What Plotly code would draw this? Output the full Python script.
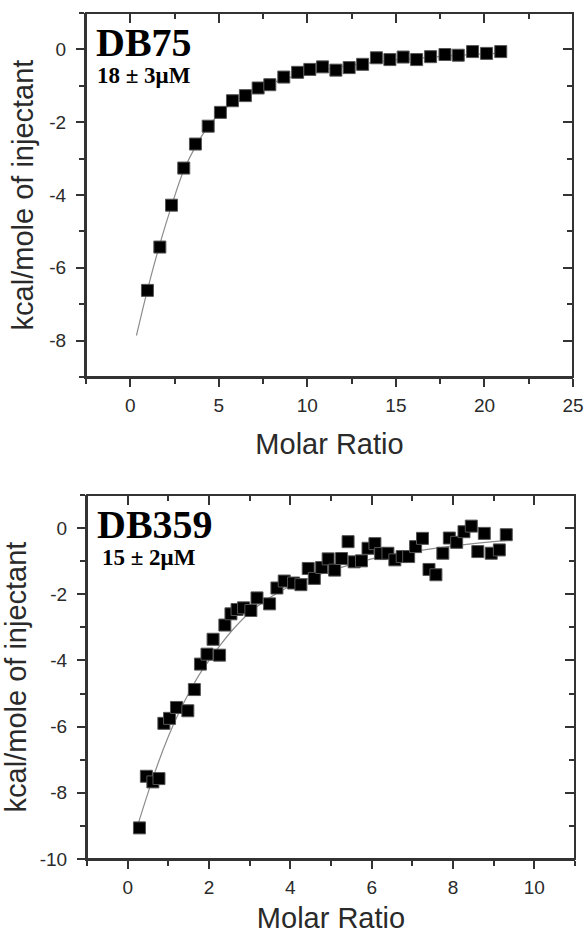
import plotly.graph_objects as go

# ---------------- data ----------------
# DB75 (top panel)
db75_ratio = [0.97, 1.67, 2.33, 3.02, 3.68, 4.40, 5.09, 5.77, 6.50, 7.22, 7.88, 8.67, 9.45, 10.14,
              10.86, 11.61, 12.36, 13.12, 13.90, 14.66, 15.41, 16.17, 16.96, 17.77, 18.52, 19.33,
              20.12, 20.92]
db75_heat = [-6.62, -5.43, -4.28, -3.26, -2.60, -2.11, -1.73, -1.41, -1.27, -1.06, -0.97, -0.76,
             -0.63, -0.55, -0.48, -0.57, -0.50, -0.41, -0.23, -0.28, -0.21, -0.28, -0.20, -0.14,
             -0.16, -0.06, -0.11, -0.06]
db75_fit_ratio = [0.35, 1.0, 1.67, 2.33, 3.0, 3.7, 4.4, 5.1, 5.8, 6.5, 7.2, 8.0, 9.0, 10.0, 11.0,
                  12.0, 13.0, 14.0, 15.0, 16.0, 17.0, 18.0, 19.0, 20.0, 20.9]
db75_fit_heat = [-7.86, -6.55, -5.35, -4.30, -3.35, -2.65, -2.12, -1.74, -1.45, -1.23, -1.06,
                 -0.92, -0.77, -0.65, -0.55, -0.47, -0.40, -0.34, -0.29, -0.25, -0.21, -0.18,
                 -0.15, -0.12, -0.10]

# DB359 (bottom panel)
db359_ratio = [0.29, 0.46, 0.62, 0.77, 0.89, 1.03, 1.20, 1.48, 1.64, 1.79, 1.95, 2.10, 2.26, 2.39,
               2.54, 2.69, 2.85, 3.03, 3.18, 3.49, 3.67, 3.85, 4.08, 4.26, 4.44, 4.59, 4.77, 4.93,
               5.09, 5.26, 5.42, 5.57, 5.75, 5.91, 6.08, 6.22, 6.40, 6.57, 6.75, 6.91, 7.08, 7.25,
               7.41, 7.58, 7.75, 7.91, 8.09, 8.27, 8.45, 8.61, 8.77, 8.94, 9.14, 9.31]
db359_heat = [-9.06, -7.50, -7.67, -7.57, -5.90, -5.75, -5.42, -5.52, -4.88, -4.11, -3.81, -3.36,
              -3.84, -2.93, -2.59, -2.46, -2.41, -2.49, -2.11, -2.29, -1.81, -1.60, -1.66, -1.71,
              -1.22, -1.52, -1.19, -0.93, -1.27, -0.92, -0.41, -1.02, -0.99, -0.61, -0.47, -0.77,
              -0.76, -0.96, -0.86, -0.86, -0.56, -0.31, -1.25, -1.41, -0.76, -0.30, -0.43, -0.11,
              0.06, -0.71, -0.16, -0.76, -0.66, -0.20]
db359_fit_ratio = [0.26, 0.5, 0.75, 1.0, 1.25, 1.5, 1.75, 2.0, 2.3, 2.6, 3.0, 3.5, 4.0, 4.5, 5.0,
                   5.5, 6.0, 6.5, 7.0, 7.5, 8.0, 8.5, 9.0, 9.3]
db359_fit_heat = [-8.93, -8.00, -7.10, -6.30, -5.60, -5.00, -4.45, -4.00, -3.50, -3.05, -2.55,
                  -2.10, -1.75, -1.50, -1.28, -1.10, -0.93, -0.81, -0.71, -0.62, -0.54, -0.47,
                  -0.41, -0.38]

# tick labels
top_xticks = [0, 5, 10, 15, 20, 25]
top_yticks = [0, -2, -4, -6, -8]
bot_xticks = [0, 2, 4, 6, 8, 10]
bot_yticks = [0, -2, -4, -6, -8, -10]

# ---------------- figure ----------------
W, H = 585, 939
AX = '#333333'
TXT = '#2a2a2a'
SANS = 'Liberation Sans, Arial, sans-serif'
SERIF = 'Liberation Serif, Times New Roman, serif'


def px_x(p):
    return p / W


def px_y(p):
    return 1 - p / H


fig = go.Figure()

marker = dict(symbol='square', size=12, color='#000000', line=dict(color='#555555', width=1))
fitline = dict(color='#8c8c8c', width=1.2, shape='spline')

fig.add_trace(go.Scatter(x=db75_fit_ratio, y=db75_fit_heat, mode='lines', line=fitline,
                         xaxis='x', yaxis='y', showlegend=False, hoverinfo='skip'))
fig.add_trace(go.Scatter(x=db75_ratio, y=db75_heat, mode='markers', marker=marker,
                         xaxis='x', yaxis='y', showlegend=False, name='DB75'))
fig.add_trace(go.Scatter(x=db359_fit_ratio, y=db359_fit_heat, mode='lines', line=fitline,
                         xaxis='x2', yaxis='y2', showlegend=False, hoverinfo='skip'))
fig.add_trace(go.Scatter(x=db359_ratio, y=db359_heat, mode='markers', marker=marker,
                         xaxis='x2', yaxis='y2', showlegend=False, name='DB359'))
# carriers for the mirrored (inside-tick) axes
fig.add_trace(go.Scatter(x=[None], y=[None], xaxis='x3', yaxis='y3', showlegend=False,
                         hoverinfo='skip'))
fig.add_trace(go.Scatter(x=[None], y=[None], xaxis='x4', yaxis='y4', showlegend=False,
                         hoverinfo='skip'))


def main_axis(rng, ticks, minor_dtick, domain, anchor, title, standoff, lab_off):
    return dict(
        domain=domain, anchor=anchor, range=rng, autorange=False,
        showline=True, linecolor=AX, linewidth=2,
        showgrid=False, zeroline=False,
        tickmode='array', tickvals=ticks, ticktext=[str(t) for t in ticks],
        ticks='outside', ticklen=8, tickwidth=1.5, tickcolor=AX,
        minor=dict(ticks='outside', ticklen=5, tickwidth=1.5, tickcolor=AX,
                   dtick=minor_dtick, tick0=0, showgrid=False),
        tickfont=dict(family=SANS, size=19, color=TXT),
        ticklabelstandoff=lab_off,
        title=dict(text=title, font=dict(family=SANS, size=29, color=TXT), standoff=standoff),
        automargin=False, fixedrange=True,
    )


def mirror_axis(rng, ticks, minor_dtick, overlay, side, anchor):
    return dict(
        overlaying=overlay, side=side, anchor=anchor, range=rng, autorange=False,
        showline=False,
        showgrid=False, zeroline=False, showticklabels=False,
        tickmode='array', tickvals=ticks,
        ticks='inside', ticklen=10, tickwidth=1.5, tickcolor=AX,
        minor=dict(ticks='inside', ticklen=6, tickwidth=1.5, tickcolor=AX,
                   dtick=minor_dtick, tick0=0, showgrid=False),
        automargin=False, fixedrange=True,
    )


top_xdom = [px_x(86), px_x(573)]
top_ydom = [px_y(377), px_y(13)]
bot_xdom = [px_x(87), px_x(575)]
bot_ydom = [px_y(859), px_y(495)]

fig.update_layout(
    width=W, height=H,
    margin=dict(l=0, r=0, t=0, b=0),
    paper_bgcolor='white', plot_bgcolor='white',
    template='none',
    showlegend=False,
    xaxis=main_axis([-2.5, 25], top_xticks, 2.5, top_xdom, 'y', 'Molar Ratio', 19, 2),
    yaxis=main_axis([-9, 1], top_yticks, 1, top_ydom, 'x', 'kcal/mole of injectant', 7, 6),
    xaxis2=main_axis([-1, 11], bot_xticks, 1, bot_xdom, 'y2', 'Molar Ratio', 11, 2),
    yaxis2=main_axis([-10, 1], bot_yticks, 1, bot_ydom, 'x2', 'kcal/mole of injectant', 7, 6),
    xaxis3=mirror_axis([-2.5, 25], top_xticks, 2.5, 'x', 'top', 'y'),
    yaxis3=mirror_axis([-9, 1], top_yticks, 1, 'y', 'right', 'x'),
    xaxis4=mirror_axis([-1, 11], bot_xticks, 1, 'x2', 'top', 'y2'),
    yaxis4=mirror_axis([-10, 1], bot_yticks, 1, 'y2', 'right', 'x2'),
)

# plot frames (top and right borders)
for xr, yr in [('x domain', 'y domain'), ('x2 domain', 'y2 domain')]:
    fig.add_shape(type='rect', xref=xr, yref=yr, x0=0, x1=1, y0=0, y1=1,
                  line=dict(color=AX, width=2), fillcolor='rgba(0,0,0,0)', layer='above')

labels = [
    ('<b>DB75</b>', 40, 94, 42),
    ('<b>18 ± 3μM</b>', 23, 95, 75),
    ('<b>DB359</b>', 40, 95, 524),
    ('<b>15 ± 2μM</b>', 23, 100, 557),
]
for text, size, lx, ly in labels:
    fig.add_annotation(text=text, xref='paper', yref='paper', x=px_x(lx), y=px_y(ly),
                       xanchor='left', yanchor='middle', showarrow=False,
                       font=dict(family=SERIF, size=size, color='#000000'))

fig.write_html('out.html', config={'displayModeBar': False},
               post_script="document.body.style.margin='0';document.body.style.padding='0';"
                           "document.documentElement.style.overflow='hidden';")
